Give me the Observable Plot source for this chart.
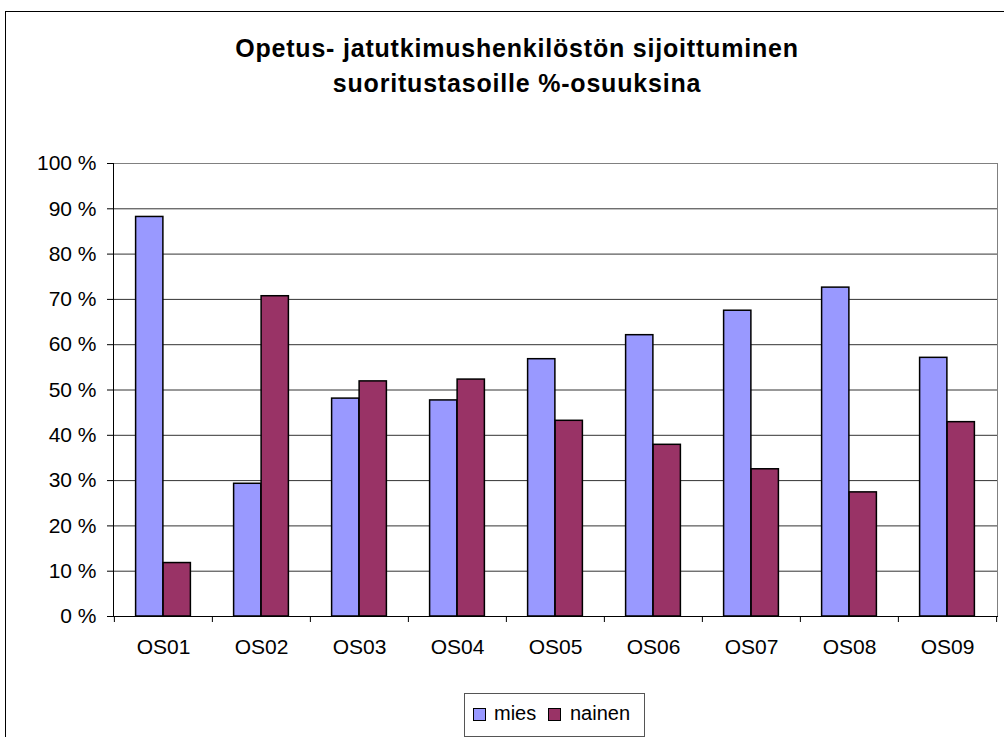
<!DOCTYPE html>
<html><head><meta charset="utf-8">
<script src="https://cdn.jsdelivr.net/npm/d3@7"></script>
<script src="https://cdn.jsdelivr.net/npm/@observablehq/plot@0.6"></script>
<style>
body{margin:0;background:#fff;font-family:"Liberation Sans",Arial,sans-serif;}
#wrap{position:relative;width:1004px;height:737px;overflow:hidden;}
#border{position:absolute;left:5px;top:11px;width:1100px;height:800px;border:1px solid #000;box-sizing:border-box;}
#title{position:absolute;left:17px;width:1000px;top:31px;text-align:center;font-weight:bold;font-size:25px;letter-spacing:0.8px;line-height:35px;color:#000;}
#chart{position:absolute;left:0;top:0;}
#legend{position:absolute;left:464px;top:693px;width:181px;height:44px;border:1px solid #555;box-sizing:border-box;background:#fff;font-size:20px;}
.sw{position:absolute;top:14px;width:13px;height:13px;border:1.5px solid #000;box-sizing:border-box;}
.lt{position:absolute;top:9px;line-height:20px;white-space:nowrap;}
</style></head>
<body>
<div id="wrap">
  <div id="border"></div>
  <div id="title">Opetus- jatutkimushenkilöstön sijoittuminen<br>suoritustasoille %-osuuksina</div>
  <div id="chart"></div>
  <div id="legend"></div>
</div>
<script>
const categories = ["OS01","OS02","OS03","OS04","OS05","OS06","OS07","OS08","OS09"];
const seriesNames = ["mies","nainen"];
const seriesColors = ["#9999FF","#993366"];
const mies   = [88.2, 29.3, 48.1, 47.7, 56.8, 62.1, 67.5, 72.6, 57.1];
const nainen = [11.8, 70.7, 51.9, 52.3, 43.2, 37.9, 32.5, 27.4, 42.9];
const yTicks = [0,10,20,30,40,50,60,70,80,90,100];

const data = [];
categories.forEach((c,i)=>{
  data.push({cat:c, series:"mies", value:mies[i]});
  data.push({cat:c, series:"nainen", value:nainen[i]});
});

const W = 1004, H = 737, mL = 113, mR = 7, mT = 163, mB = 121;
const half = (W - mL - mR) / categories.length / 2;
const barW = 27.5;

const plot = Plot.plot({
  width: W, height: H,
  marginTop: mT, marginBottom: mB, marginLeft: mL, marginRight: mR,
  style: {fontFamily: '"Liberation Sans", Arial, sans-serif', fontSize: "21px", background: "transparent", color: "#000"},
  x: {type: "band", domain: categories, padding: 0, axis: null, label: null},
  y: {domain: [0, 100], axis: null, label: null},
  color: {domain: seriesNames, range: seriesColors},
  marks: [
    Plot.ruleY(yTicks.filter(d => d > 0 && d < 100), {y: d => d, stroke: "#333", strokeWidth: 1}),
    Plot.frame({stroke: "#808080", strokeWidth: 1}),
    Plot.barY(data.filter(d => d.series === "mies"), {x: "cat", y: "value", fill: "series", stroke: "#000", strokeWidth: 1.5, insetLeft: half - barW, insetRight: half}),
    Plot.barY(data.filter(d => d.series === "nainen"), {x: "cat", y: "value", fill: "series", stroke: "#000", strokeWidth: 1.5, insetLeft: half, insetRight: half - barW}),
    Plot.frame({anchor: "left", stroke: "#000", strokeWidth: 1}),
    Plot.frame({anchor: "bottom", stroke: "#000", strokeWidth: 1}),
    Plot.axisY(yTicks, {label: null, tickSize: 6, tickPadding: 11, tickFormat: d => d + " %", fontSize: 21, stroke: "#000", fill: "#000"}),
    Plot.axisX({label: null, tickSize: 0, tickPadding: 23, fontSize: 21, fill: "#000"}),
    Plot.tickX(categories, {x: d => d, dx: -half, insetTop: H - mT - mB, insetBottom: -6, stroke: "#000"}),
    Plot.tickX(categories.slice(-1), {x: d => d, dx: half, insetTop: H - mT - mB, insetBottom: -6, stroke: "#000"})
  ]
});
document.getElementById("chart").appendChild(plot);

const lg = document.getElementById("legend");
const swLeft = [8, 83], txtLeft = [29, 105];
seriesNames.forEach((s, i) => {
  const sw = document.createElement("div");
  sw.className = "sw"; sw.style.left = swLeft[i] + "px"; sw.style.background = seriesColors[i];
  lg.appendChild(sw);
  const t = document.createElement("div");
  t.className = "lt"; t.style.left = txtLeft[i] + "px"; t.textContent = s;
  lg.appendChild(t);
});
</script>
</body></html>
